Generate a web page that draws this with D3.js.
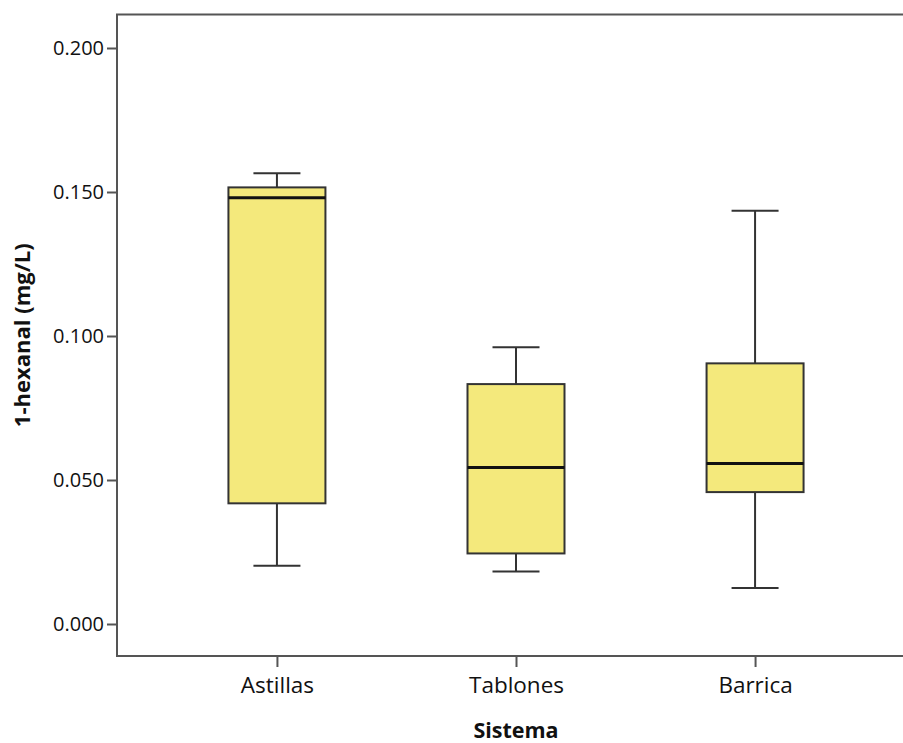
<!DOCTYPE html>
<html>
<head>
<meta charset="utf-8">
<script src="https://cdn.jsdelivr.net/npm/d3@7"></script>
<style>
  html, body { margin: 0; padding: 0; background: #fff; }
  svg { display: block; }
  text { font-family: "Open Sans", "Noto Sans", sans-serif; fill: #111; }
</style>
</head>
<body>
<svg id="chart" width="903" height="743"></svg>
<script>
// 1-hexanal by aging system: five-number summaries per group
const categories = ["Astillas", "Tablones", "Barrica"];
const whiskerLow = [0.0202, 0.0182, 0.0125];
const quartile1  = [0.0419, 0.0245, 0.0458];
const medians    = [0.1480, 0.0543, 0.0557];
const quartile3  = [0.1516, 0.0833, 0.0905];
const whiskerHigh = [0.1565, 0.0961, 0.1435];
const yTicks = [0.000, 0.050, 0.100, 0.150, 0.200];
const yTitle = "1-hexanal (mg/L)";
const xTitle = "Sistema";

const rows = categories.map((c, i) => ({
  cat: c, lo: whiskerLow[i], q1: quartile1[i], med: medians[i], q3: quartile3[i], hi: whiskerHigh[i]
}));

const svg = d3.select("#chart");
const plotLeft = 117, plotRight = 915, plotTop = 14.5, plotBottom = 656;

const y = d3.scaleLinear().domain([0, 0.2]).range([624, 48]);
const x = d3.scalePoint().domain(categories).range([plotLeft, plotRight]).padding(0.669);

const boxW = 97, capW = 47;
const frameColor = "#555";

// frame: top, left and bottom lines
svg.append("path")
  .attr("d", `M${903 + 5},${plotTop} H${plotLeft} V${plotBottom} H${903 + 5}`)
  .attr("fill", "none").attr("stroke", frameColor).attr("stroke-width", 2);

// y axis
const yAxis = svg.append("g").attr("transform", `translate(${plotLeft},0)`)
  .call(d3.axisLeft(y).tickValues(yTicks).tickFormat(d3.format(".3f")).tickSize(10).tickPadding(3));
yAxis.select(".domain").remove();
yAxis.selectAll(".tick line").attr("stroke", frameColor).attr("stroke-width", 2);
yAxis.selectAll(".tick text").attr("font-size", 20).attr("fill", "#111")
  .attr("font-family", "'Open Sans', sans-serif");

// x axis
const xAxis = svg.append("g").attr("transform", `translate(0,${plotBottom})`)
  .call(d3.axisBottom(x).tickSize(11).tickPadding(10));
xAxis.select(".domain").remove();
xAxis.selectAll(".tick line").attr("stroke", frameColor).attr("stroke-width", 2);
xAxis.selectAll(".tick text").attr("font-size", 22.5).attr("fill", "#111")
  .attr("font-family", "'Open Sans', sans-serif");

// axis titles
svg.append("text")
  .attr("x", (plotLeft + plotRight) / 2).attr("y", 738)
  .attr("text-anchor", "middle").attr("font-size", 21.5).attr("font-weight", "bold")
  .text(xTitle);
svg.append("text")
  .attr("transform", `translate(30,${(plotTop + plotBottom) / 2}) rotate(-90)`)
  .attr("text-anchor", "middle").attr("font-size", 22).attr("font-weight", "bold")
  .text(yTitle);

// boxes
const g = svg.append("g").selectAll("g").data(rows).join("g")
  .attr("transform", d => `translate(${x(d.cat)},0)`);

const stroke = "#333";
// whisker stems
g.append("line").attr("x1", 0).attr("x2", 0)
  .attr("y1", d => y(d.q3)).attr("y2", d => y(d.hi))
  .attr("stroke", stroke).attr("stroke-width", 2);
g.append("line").attr("x1", 0).attr("x2", 0)
  .attr("y1", d => y(d.q1)).attr("y2", d => y(d.lo))
  .attr("stroke", stroke).attr("stroke-width", 2);
// whisker caps
g.append("line").attr("x1", -capW / 2).attr("x2", capW / 2)
  .attr("y1", d => y(d.hi)).attr("y2", d => y(d.hi))
  .attr("stroke", stroke).attr("stroke-width", 2);
g.append("line").attr("x1", -capW / 2).attr("x2", capW / 2)
  .attr("y1", d => y(d.lo)).attr("y2", d => y(d.lo))
  .attr("stroke", stroke).attr("stroke-width", 2);
// box
g.append("rect")
  .attr("x", -boxW / 2).attr("width", boxW)
  .attr("y", d => y(d.q3)).attr("height", d => y(d.q1) - y(d.q3))
  .attr("fill", "#F4E97C").attr("stroke", stroke).attr("stroke-width", 2);
// median
g.append("line").attr("x1", -boxW / 2).attr("x2", boxW / 2)
  .attr("y1", d => y(d.med)).attr("y2", d => y(d.med))
  .attr("stroke", "#111").attr("stroke-width", 3);
</script>
</body>
</html>
